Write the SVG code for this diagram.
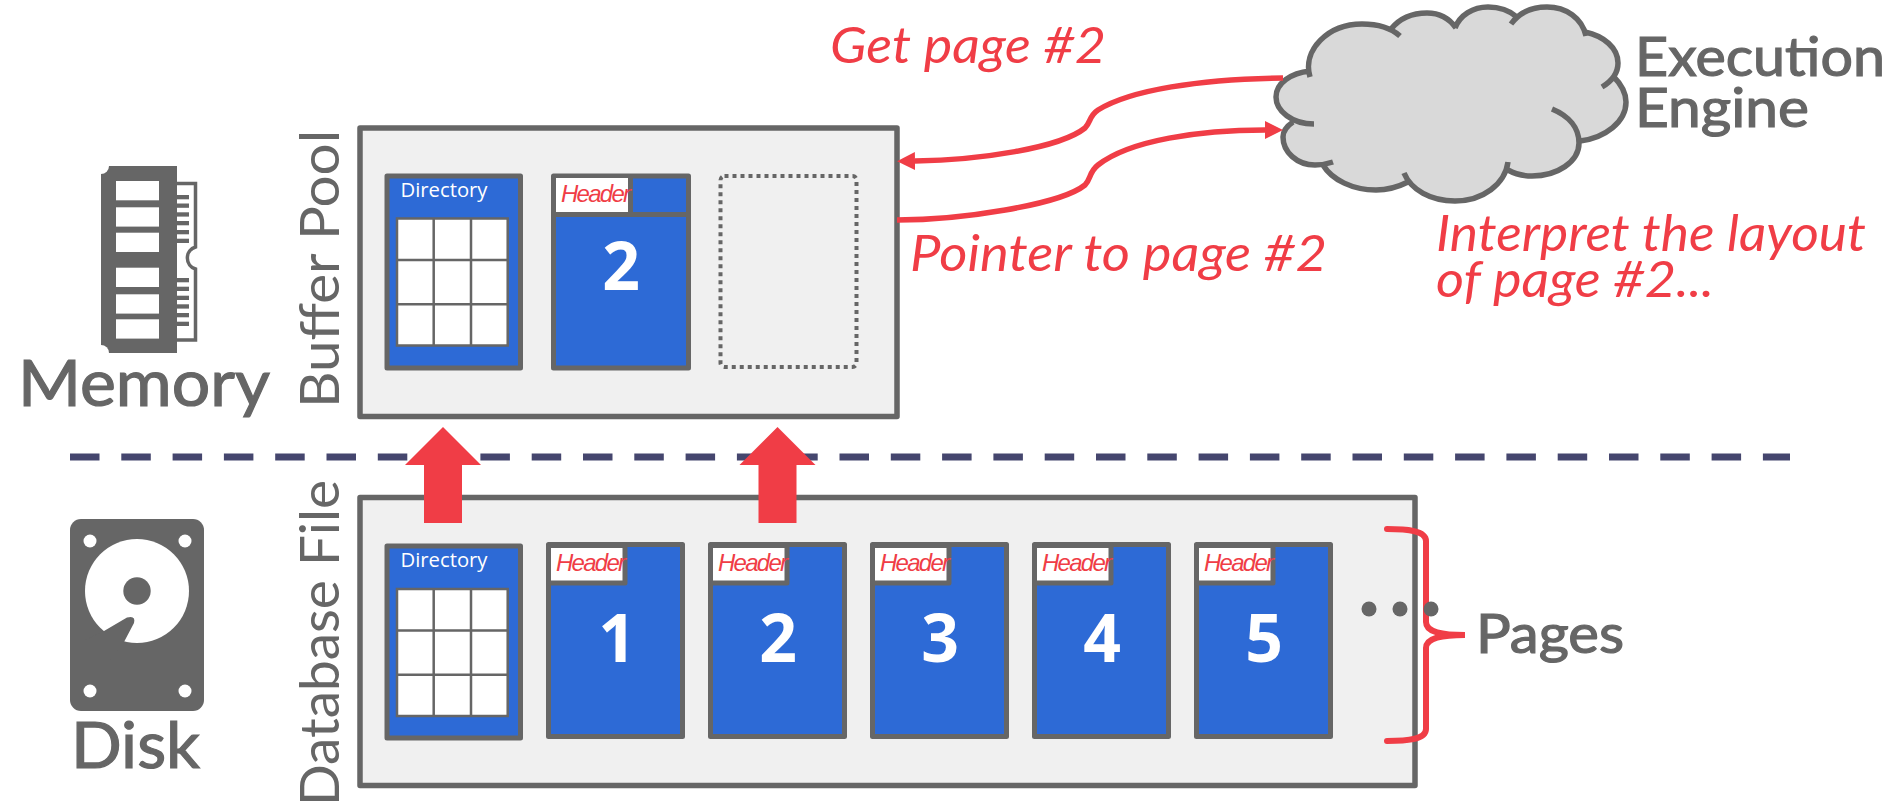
<svg xmlns="http://www.w3.org/2000/svg" xmlns:xlink="http://www.w3.org/1999/xlink" width="1897" height="803" viewBox="0 0 1897 803">
<style>
.box{fill:#f0f0f0;stroke:#666;stroke-width:5.5;stroke-linejoin:round}
.page{fill:#2d6ad6;stroke:#666;stroke-width:5;stroke-linejoin:round}
.hdr{fill:#fff;stroke:#666;stroke-width:5;stroke-linejoin:round}
.label{font-family:"Lato","Liberation Sans",sans-serif;fill:#666;stroke:#666;stroke-width:1.2px}
.side{font-family:"Lato","Liberation Sans",sans-serif;fill:#666;font-size:55px}
.note{font-family:"Lato","Liberation Sans",sans-serif;fill:#f03d46;font-style:italic;font-size:50px}
.htxt{font-family:"Liberation Sans",Arial,sans-serif;fill:#f03d46;font-style:italic;font-size:24px}
.dir{font-family:"Open Sans","Liberation Sans",sans-serif;fill:#fff;font-size:20px}
.num{font-family:"Open Sans","Liberation Sans",sans-serif;fill:#fff;font-size:66px;font-weight:700;text-anchor:middle}
.red{fill:none;stroke:#f03d46;stroke-width:5.5}
.gline{stroke:#666;stroke-width:2.5;fill:none}
.pin{fill:#666}
</style>
<defs>
<marker id="ah" markerUnits="userSpaceOnUse" markerWidth="18" markerHeight="18" viewBox="0 0 18 18" refX="0" refY="9" orient="auto"><path d="M0 0L18 9L0 18Z" fill="#f03d46"/></marker>
<g id="grid">
<rect x="397" y="218.5" width="110.7" height="127" fill="#fff" stroke="#666" stroke-width="2.5"/>
<path class="gline" d="M433.7 218.5V345.5M471 218.5V345.5M397 260H507.7M397 304.3H507.7"/>
</g>
<path id="upa" d="M0 0L38 38H19V96H-19V38H-38Z" fill="#f03d46"/>
</defs>

<g id="memory-icon">
<rect x="101" y="166" width="76" height="187" fill="#666"/>
<circle cx="101" cy="166" r="8" fill="#fff"/><circle cx="101" cy="353" r="8" fill="#fff"/>
<g fill="#fff">
<rect x="116" y="181" width="43" height="19.3"/><rect x="116" y="207.3" width="43" height="19.3"/><rect x="116" y="232.7" width="43" height="19.3"/>
<rect x="116" y="267.7" width="43" height="19.3"/><rect x="116" y="294.3" width="43" height="19.3"/><rect x="116" y="319.3" width="43" height="19.3"/>
</g>
<path d="M177 183.5H195.5V247A11.5 11.5 0 0 0 195.5 269V340H177" fill="none" stroke="#666" stroke-width="3.5"/>
<g class="pin">
<rect x="177" y="195" width="12" height="4.3"/><rect x="177" y="203.5" width="12" height="4.3"/><rect x="177" y="212.3" width="12" height="4.3"/><rect x="177" y="221" width="12" height="4.3"/><rect x="177" y="230" width="12" height="4.3"/><rect x="177" y="238.7" width="12" height="4.3"/>
<rect x="177" y="278" width="12" height="4.3"/><rect x="177" y="286.7" width="12" height="4.3"/><rect x="177" y="295.7" width="12" height="4.3"/><rect x="177" y="304.3" width="12" height="4.3"/><rect x="177" y="313" width="12" height="4.3"/><rect x="177" y="321.7" width="12" height="4.3"/>
</g>
<text class="label" x="18" y="406" font-size="64" textLength="252" lengthAdjust="spacingAndGlyphs">Memory</text>
</g>

<g id="disk-icon">
<rect x="70" y="519" width="134" height="192" rx="11" fill="#666"/>
<g fill="#fff"><circle cx="90" cy="541" r="6.5"/><circle cx="185" cy="541" r="6.5"/><circle cx="90" cy="691" r="6.5"/><circle cx="185" cy="691" r="6.5"/><circle cx="137" cy="591" r="52"/></g>
<circle cx="137" cy="591" r="13.7" fill="#666"/>
<path d="M104 631L127 617.5Q136 615 134 623L124 642L110 660L85 640Z" fill="#666"/>
<text class="label" x="71" y="768" font-size="64" textLength="129" lengthAdjust="spacingAndGlyphs">Disk</text>
</g>

<g id="divider"><path d="M70 457H1790" stroke="#45466e" stroke-width="7" stroke-dasharray="29.5 21.8" fill="none"/></g>

<g id="buffer-pool">
<rect class="box" x="360" y="128" width="537" height="288.500"/>
<text class="side" transform="translate(339 408) rotate(-90)" textLength="278" lengthAdjust="spacingAndGlyphs">Buffer Pool</text>
</g>
<g id="buffer-directory">
<rect class="page" x="387" y="176" width="133.5" height="192"/>
<text class="dir" x="400.5" y="197" textLength="87" lengthAdjust="spacingAndGlyphs">Directory</text>
<use xlink:href="#grid" href="#grid"/>
</g>
<g id="buffer-page-2">
<rect class="page" x="553.5" y="176" width="135" height="192"/>
<path d="M553.5 214.5H688.5M630.5 176V214.5" stroke="#666" stroke-width="5" fill="none"/>
<rect x="556" y="178" width="72" height="34" fill="#fff"/>
<text class="htxt" x="561" y="201.5" textLength="70" lengthAdjust="spacing">Header</text>
<text class="num" x="621" y="290">2</text>
</g>
<g id="buffer-empty-slot">
<rect x="720.500" y="176" width="136" height="191" rx="4" fill="none" stroke="#666" stroke-width="4" stroke-dasharray="4 4"/>
</g>

<g id="database-file">
<rect class="box" x="360" y="497.500" width="1055" height="288"/>
<text class="side" transform="translate(339 806) rotate(-90)" textLength="326" lengthAdjust="spacingAndGlyphs">Database File</text>
</g>
<g id="file-directory">
<rect class="page" x="387" y="546" width="133.5" height="192"/>
<text class="dir" x="400.5" y="567" textLength="87" lengthAdjust="spacingAndGlyphs">Directory</text>
<use xlink:href="#grid" href="#grid" y="370.5"/>
</g>
<g id="file-page-1">
<rect class="page" x="548.5" y="544.5" width="134" height="192"/>
<rect class="hdr" x="548.5" y="545.5" width="76.5" height="37.5"/>
<text class="htxt" x="556" y="571" textLength="70" lengthAdjust="spacing">Header</text>
<text class="num" x="617" y="662">1</text>
</g>
<g id="file-page-2">
<rect class="page" x="710.5" y="544.5" width="134" height="192"/>
<rect class="hdr" x="710.5" y="545.5" width="76.5" height="37.5"/>
<text class="htxt" x="718" y="571" textLength="70" lengthAdjust="spacing">Header</text>
<text class="num" x="778" y="662">2</text>
</g>
<g id="file-page-3">
<rect class="page" x="872.5" y="544.5" width="134" height="192"/>
<rect class="hdr" x="872.5" y="545.5" width="76.5" height="37.5"/>
<text class="htxt" x="880" y="571" textLength="70" lengthAdjust="spacing">Header</text>
<text class="num" x="940" y="662">3</text>
</g>
<g id="file-page-4">
<rect class="page" x="1034.5" y="544.5" width="134" height="192"/>
<rect class="hdr" x="1034.5" y="545.5" width="76.5" height="37.5"/>
<text class="htxt" x="1042" y="571" textLength="70" lengthAdjust="spacing">Header</text>
<text class="num" x="1102" y="662">4</text>
</g>
<g id="file-page-5">
<rect class="page" x="1196.5" y="544.5" width="134" height="192"/>
<rect class="hdr" x="1196.5" y="545.5" width="76.5" height="37.5"/>
<text class="htxt" x="1204" y="571" textLength="70" lengthAdjust="spacing">Header</text>
<text class="num" x="1264" y="662">5</text>
</g>

<g id="execution-engine">
<path fill="#d9d9d9" d="M1310 77C1302 50 1328 24 1362 24C1378 24 1391 28 1400 36L1391 29C1400 18 1413 13 1427 13C1440 13 1449 18 1456 28L1455 28C1460 15 1473 7 1488 7C1500 7 1510 11 1517 17L1511 24C1519 13 1532 7 1547 7C1566 7 1582 18 1586 36L1585 32C1604 36 1618 48 1618 63C1618 73 1612 81 1602 87L1613 76C1621 84 1626 92 1626 102C1626 122 1605 138 1580 141L1579 143C1579 162 1557 176 1532 176C1523 176 1515 174 1508 170L1508 162C1505 184 1483 201 1455 201C1431 201 1411 190 1404 173L1408 182C1398 187 1388 190 1376 190C1353 190 1332 180 1323 165L1333 162C1327 164 1321 165 1315 165C1297 165 1283 152 1283 137C1283 131 1287 126 1293 122L1314 124C1292 124 1276 111 1276 97C1276 83 1291 73 1310 71Z"/>
<path fill="none" stroke="#666" stroke-width="5.5" d="M1310 77C1302 50 1328 24 1362 24C1378 24 1391 28 1400 36M1391 29C1400 18 1413 13 1427 13C1440 13 1449 18 1456 28M1455 28C1460 15 1473 7 1488 7C1500 7 1510 11 1517 17M1511 24C1519 13 1532 7 1547 7C1566 7 1582 18 1586 36M1585 32C1604 36 1618 48 1618 63C1618 73 1612 81 1602 87M1613 76C1621 84 1626 92 1626 102C1626 122 1605 138 1580 141M1552 109C1569 116 1579 128 1579 143C1579 162 1557 176 1532 176C1523 176 1515 174 1508 170M1508 162C1505 184 1483 201 1455 201C1431 201 1411 190 1404 173M1408 182C1398 187 1388 190 1376 190C1353 190 1332 180 1323 165M1333 162C1327 164 1321 165 1315 165C1297 165 1283 152 1283 137C1283 131 1287 126 1293 122M1314 124C1292 124 1276 111 1276 97C1276 83 1291 73 1310 71"/>
<text class="label" x="1635" y="76" font-size="54" textLength="250" lengthAdjust="spacingAndGlyphs">Execution</text>
<text class="label" x="1635" y="127" font-size="54" textLength="174" lengthAdjust="spacingAndGlyphs">Engine</text>
</g>

<g id="connectors">
<path class="red" marker-end="url(#ah)" d="M1283 78C1200 79 1130 90 1098 110C1089 116 1091 122 1085 128C1060 148 980 160 915 161"/>
<path class="red" marker-end="url(#ah)" d="M897 220C960 220 1060 205 1085 185C1091 179 1089 172 1098 165C1130 140 1200 130 1265 130"/>
<use xlink:href="#upa" href="#upa" x="443" y="427"/>
<use xlink:href="#upa" href="#upa" x="777.500" y="427"/>
</g>

<g id="pages-brace">
<path d="M1387 529C1405 529 1426 530 1426 541V622C1426 632 1440 635 1465 635C1440 635 1426 638 1426 648V729C1426 740 1405 741 1387 741" fill="none" stroke="#f03d46" stroke-width="6" stroke-linecap="round"/>
<g fill="#666"><circle cx="1369" cy="609" r="7.500"/><circle cx="1400" cy="609" r="7.500"/><circle cx="1431" cy="609" r="7.500"/></g>
<text class="label" x="1476" y="653" font-size="54" textLength="148" lengthAdjust="spacingAndGlyphs">Pages</text>
</g>

<g id="notes">
<text class="note" x="830" y="63" textLength="276" lengthAdjust="spacingAndGlyphs">Get page #2</text>
<text class="note" x="910" y="271" textLength="417" lengthAdjust="spacingAndGlyphs">Pointer to page #2</text>
<text class="note" x="1436" y="251" textLength="430" lengthAdjust="spacingAndGlyphs">Interpret the layout</text>
<text class="note" x="1436" y="297" textLength="278" lengthAdjust="spacingAndGlyphs">of page #2...</text>
</g>
</svg>
